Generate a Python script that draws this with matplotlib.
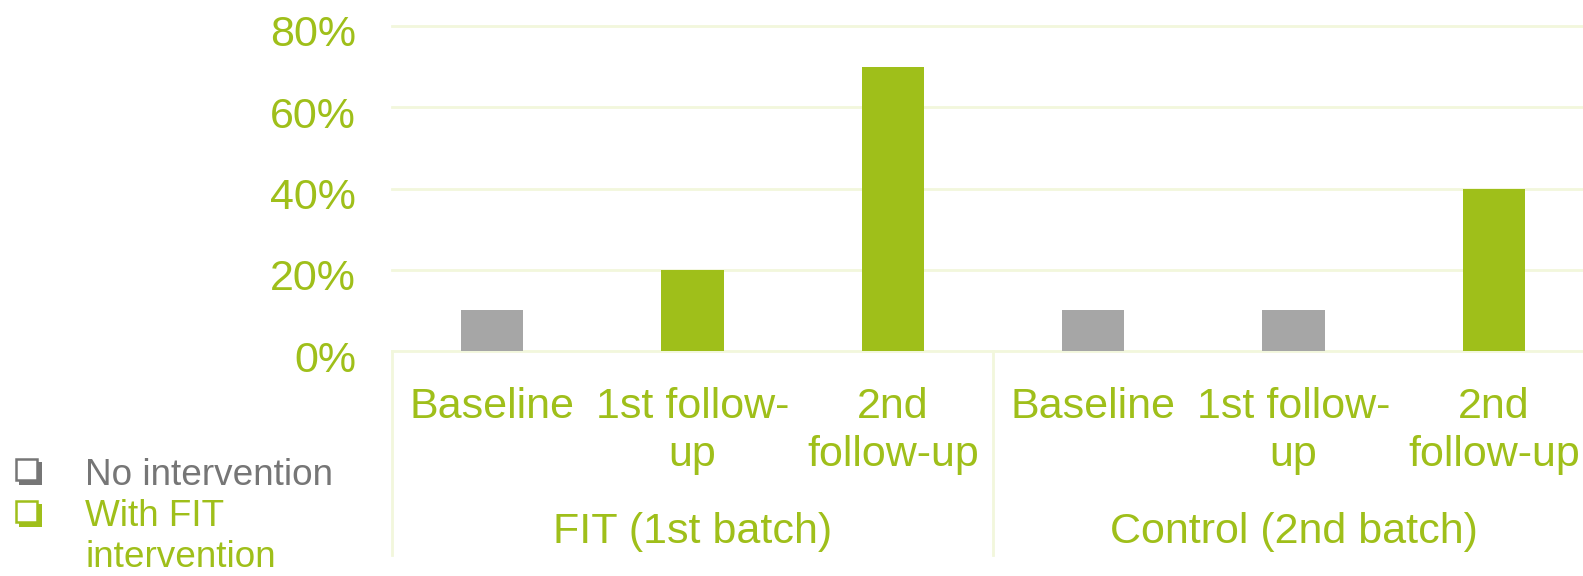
import matplotlib
matplotlib.use("Agg")
import matplotlib.pyplot as plt
import matplotlib.transforms as mtransforms
from matplotlib.patches import Rectangle

plt.rcParams['font.family'] = ['Liberation Sans', 'DejaVu Sans']

# Data
categories = ["Baseline", "1st follow-\nup", "2nd\nfollow-up",
              "Baseline", "1st follow-\nup", "2nd\nfollow-up"]
groups = ["FIT (1st batch)", "Control (2nd batch)"]
values = [0.10, 0.20, 0.70, 0.10, 0.10, 0.40]
with_fit = [False, True, True, False, False, True]
yticks = [0.0, 0.2, 0.4, 0.6, 0.8]
ytick_labels = ["0%", "20%", "40%", "60%", "80%"]
legend_labels = ["No intervention", "With FIT\nintervention"]

GREEN = "#9FBF1A"
GREY = "#A6A6A6"
GREY_TEXT = "#767676"
GRID = "#F2F7DC"

W, H = 1583, 576
fig = plt.figure(figsize=(W / 100, H / 100), dpi=100)
ax = fig.add_axes([392 / W, (H - 351) / H, (1594 - 392) / W, 325 / H])

x = list(range(len(values)))
colors = [GREEN if f else GREY for f in with_fit]
ax.bar(x, values, width=0.31, color=colors, zorder=3)

ax.set_xlim(-0.5, len(values) - 0.5)
ax.set_ylim(0, 0.8)
ax.set_yticks(yticks)
ax.set_yticklabels(ytick_labels)
ax.tick_params(axis='y', length=0, pad=26, labelsize=31, labelcolor=GREEN)
ax.set_xticks(x)
ax.set_xticklabels(categories, ha='center', linespacing=1.24)
ax.tick_params(axis='x', length=0, pad=26, labelsize=31, labelcolor=GREEN)

offset = mtransforms.ScaledTranslation(0, -0.05, fig.dpi_scale_trans)
for lab in ax.get_yticklabels():
    lab.set_transform(lab.get_transform() + offset)

for s in ax.spines.values():
    s.set_visible(False)
for yv in yticks:
    ax.axhline(yv, color=GRID, lw=2, zorder=1, clip_on=False)

trans = mtransforms.blended_transform_factory(ax.transData, ax.transAxes)
for xs in [-0.5, 2.5, 5.5]:
    ax.plot([xs, xs], [0, -(555 - 351) / 325], color=GRID, lw=2,
            transform=trans, clip_on=False)

for gi, g in enumerate(groups):
    ax.text(gi * 3 + 1, -(543 - 351) / 325, g, transform=trans,
            ha='center', va='baseline', fontsize=31, color=GREEN)

# Legend markers (shadowed squares), drawn in figure pixel coordinates
def px_rect(x0, y0top, w, h, **kw):
    return Rectangle((x0 / W, (H - y0top - h) / H), w / W, h / H,
                     transform=fig.transFigure, **kw)

for top, col in [(458, GREY_TEXT), (500, GREEN)]:
    fig.patches.append(px_rect(19, top + 4, 23, 23, facecolor=col,
                               edgecolor='none'))
    fig.patches.append(px_rect(16, top + 1, 21, 21, facecolor='white',
                               edgecolor=col, linewidth=1.8))

fig.text(85 / W, (H - 485) / H, legend_labels[0], fontsize=26.6,
         color=GREY_TEXT, va='baseline', ha='left')
l1, l2 = legend_labels[1].split("\n")
fig.text(85 / W, (H - 526) / H, l1, fontsize=26.6, color=GREEN,
         va='baseline', ha='left')
fig.text(85 / W, (H - 567) / H, l2, fontsize=26.6, color=GREEN,
         va='baseline', ha='left')

fig.savefig("out.png", dpi=100, facecolor='white')
